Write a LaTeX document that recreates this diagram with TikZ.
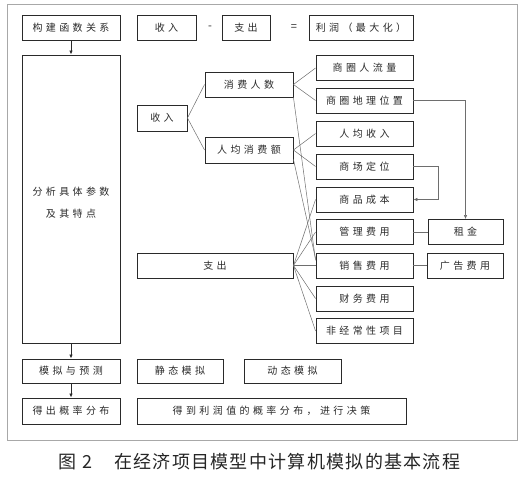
\documentclass[tikz,border=0pt]{standalone}
\usepackage{fontspec}
\setmainfont{Noto Sans CJK SC}
\usetikzlibrary{arrows.meta}
\newlength\chsp \setlength\chsp{3.4pt}
\def\spc#1{\spcA#1\relax}
\def\spcA#1#2{#1\ifx\relax#2\else\kern\chsp\expandafter\spcA\expandafter#2\fi}
\definecolor{boxc}{HTML}{2A2A2A}
\definecolor{linec}{HTML}{6E6E6E}
\definecolor{framec}{HTML}{A8A8A8}
\tikzset{
  bx/.style={draw=boxc, line width=0.9pt, minimum height=25pt, inner sep=0pt,
    font=\fontsize{10pt}{12pt}\selectfont, text=boxc},
  conn/.style={draw=linec, line width=0.5pt},
  arr/.style={-{Latex[length=4pt,width=3.5pt]}},
  sym/.style={font=\fontsize{11pt}{12pt}\selectfont, text=boxc, inner sep=0pt}
}
\begin{document}
\begin{tikzpicture}[x=1pt,y=-1pt]
\useasboundingbox (0,0) rectangle (527,477);
\draw[framec, line width=0.9pt] (7,4) rectangle (517,440);
% top row
\node[bx, minimum width=98pt] (gj) at (71,27.5) {\spc{构建函数关系}};
\node[bx, minimum width=59pt] (sr0) at (166.5,27.5) {\spc{收入}};
\node[sym] (minus) at (210,28) {-};
\node[bx, minimum width=48pt] (zc0) at (246,27.5) {\spc{支出}};
\node[sym] (eq) at (294,28) {=};
\node[bx, minimum width=104pt] (lr) at (361,27.5) {\spc{利润（最大化）}};
% big left box
\node[bx, minimum width=98pt, minimum height=288pt] (fx) at (71,199) {};
\node[font=\fontsize{10pt}{12pt}\selectfont, text=boxc, align=center, inner sep=0pt] (fxt) at (71,202.5)
  {\spc{分析具体参数}\\[10pt]\spc{及其特点}};
% middle tree
\node[bx, minimum width=50pt, minimum height=26pt] (sr) at (162,118) {\spc{收入}};
\node[bx, minimum width=88pt] (xfrs) at (249,84.5) {\spc{消费人数}};
\node[bx, minimum width=88pt, minimum height=26pt] (rjxf) at (249,150) {\spc{人均消费额}};
\node[bx, minimum width=156pt] (zc) at (215,265.5) {\spc{支出}};
% right column
\node[bx, minimum width=97pt] (r1) at (364.5,68) {\spc{商圈人流量}};
\node[bx, minimum width=97pt] (r2) at (364.5,100.5) {\spc{商圈地理位置}};
\node[bx, minimum width=97pt] (r3) at (364.5,133.5) {\spc{人均收入}};
\node[bx, minimum width=97pt] (r4) at (364.5,166.5) {\spc{商场定位}};
\node[bx, minimum width=97pt] (r5) at (364.5,199.5) {\spc{商品成本}};
\node[bx, minimum width=97pt] (r6) at (364.5,232) {\spc{管理费用}};
\node[bx, minimum width=97pt] (r7) at (364.5,265.5) {\spc{销售费用}};
\node[bx, minimum width=97pt] (r8) at (364.5,298.5) {\spc{财务费用}};
\node[bx, minimum width=97pt] (r9) at (364.5,331) {\spc{非经常性项目}};
\node[bx, minimum width=75pt] (zj) at (465.5,232) {\spc{租金}};
\node[bx, minimum width=76pt] (gg) at (465,265.5) {\spc{广告费用}};
% bottom rows
\node[bx, minimum width=98pt, minimum height=24pt] (mn) at (71,371) {\spc{模拟与预测}};
\node[bx, minimum width=86pt, minimum height=24pt] (jt) at (180,371) {\spc{静态模拟}};
\node[bx, minimum width=97pt, minimum height=24pt] (dt) at (292.5,371) {\spc{动态模拟}};
\node[bx, minimum width=98pt, minimum height=26pt] (dc) at (71,411) {\spc{得出概率分布}};
\node[bx, minimum width=269pt, minimum height=26pt] (dd) at (271.5,411) {\spc{得到利润值的概率分布，进行决策}};
% flow arrows
\draw[boxc, line width=0.8pt, arr] (gj.south) -- (fx.north);
\draw[boxc, line width=0.8pt, arr] (fx.south) -- (mn.north);
\draw[boxc, line width=0.8pt, arr] (mn.south) -- (dc.north);
% connectors
\draw[conn] (sr.east) -- (xfrs.west);
\draw[conn] (sr.east) -- (rjxf.west);
\draw[conn] (xfrs.east) -- (r1.west);
\draw[conn] (xfrs.east) -- (r2.west);
\draw[conn] (xfrs.south east) -- (r7.174);
\draw[conn] (rjxf.east) -- (r3.west);
\draw[conn] (rjxf.east) -- (r4.west);
\draw[conn] (rjxf.-12) -- (r7.172);
\draw[conn] (zc.east) -- (r5.west);
\draw[conn] (zc.east) -- (r6.west);
\draw[conn] (zc.east) -- (r7.west);
\draw[conn] (zc.east) -- (r8.west);
\draw[conn] (zc.east) -- (r9.west);
\draw[conn, arr] (r2.east) -| (zj.north);
\draw[conn, arr] (r4.east) -- ++(25,0) |- (r5.east);
\draw[conn] (r6.east) -- (zj.west);
\draw[conn] (r7.east) -- (gg.west);
% caption
\node[font=\fontsize{18pt}{20pt}\selectfont, text=black!85, inner sep=0pt, anchor=west] (cap) at (58,462)
  {图\kern6pt 2\kern22pt{\setlength\chsp{1.3pt}\spc{在经济项目模型中计算机模拟的基本流程}}};
\end{tikzpicture}
\end{document}
